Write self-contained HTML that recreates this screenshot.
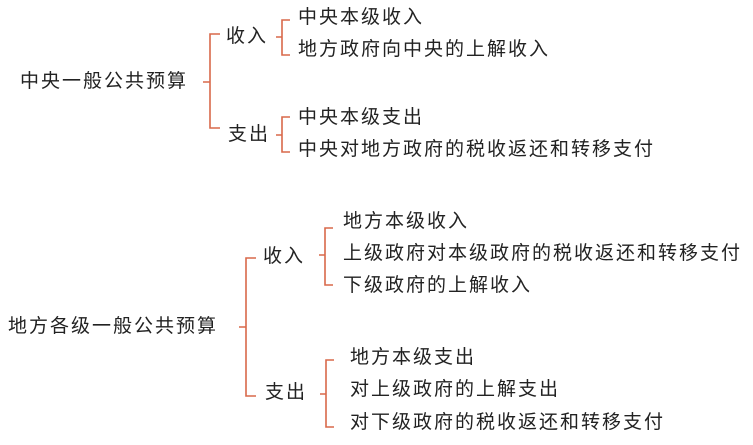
<!DOCTYPE html>
<html><head><meta charset="utf-8"><style>
body{margin:0;width:753px;height:445px;background:#fff;position:relative;overflow:hidden}
.t{position:absolute;font-family:"Liberation Sans","Noto Sans CJK SC",sans-serif;font-size:19px;letter-spacing:2px;color:#222;line-height:24px;white-space:nowrap;transform:translateY(-12px)}
svg{position:absolute;left:0;top:0}
</style></head><body>
<svg width="753" height="445" fill="none" stroke="#d9694a" stroke-width="1.6">
<path d="M220 34H210V128H220M210 82H203"/>
<path d="M290 20H282V55H290M282 37H276"/>
<path d="M290 117H282V152H290M282 135H276"/>
<path d="M256 258H246V396H256M246 327H239"/>
<path d="M333 228H325V285H333M325 255H319"/>
<path d="M334 360H326V427H334M326 394H320"/>
</svg>
<div class="t" style="left:20px;top:82px">中央一般公共预算</div>
<div class="t" style="left:226px;top:37px">收入</div>
<div class="t" style="left:228px;top:135px">支出</div>
<div class="t" style="left:298px;top:18px">中央本级收入</div>
<div class="t" style="left:298px;top:50px">地方政府向中央的上解收入</div>
<div class="t" style="left:298px;top:118px">中央本级支出</div>
<div class="t" style="left:298px;top:150px">中央对地方政府的税收返还和转移支付</div>
<div class="t" style="left:8px;top:327px">地方各级一般公共预算</div>
<div class="t" style="left:263px;top:257px">收入</div>
<div class="t" style="left:265px;top:393px">支出</div>
<div class="t" style="left:343px;top:222px">地方本级收入</div>
<div class="t" style="left:343px;top:254px">上级政府对本级政府的税收返还和转移支付</div>
<div class="t" style="left:343px;top:286px">下级政府的上解收入</div>
<div class="t" style="left:350px;top:358px">地方本级支出</div>
<div class="t" style="left:350px;top:390px">对上级政府的上解支出</div>
<div class="t" style="left:350px;top:423px">对下级政府的税收返还和转移支付</div>
</body></html>
